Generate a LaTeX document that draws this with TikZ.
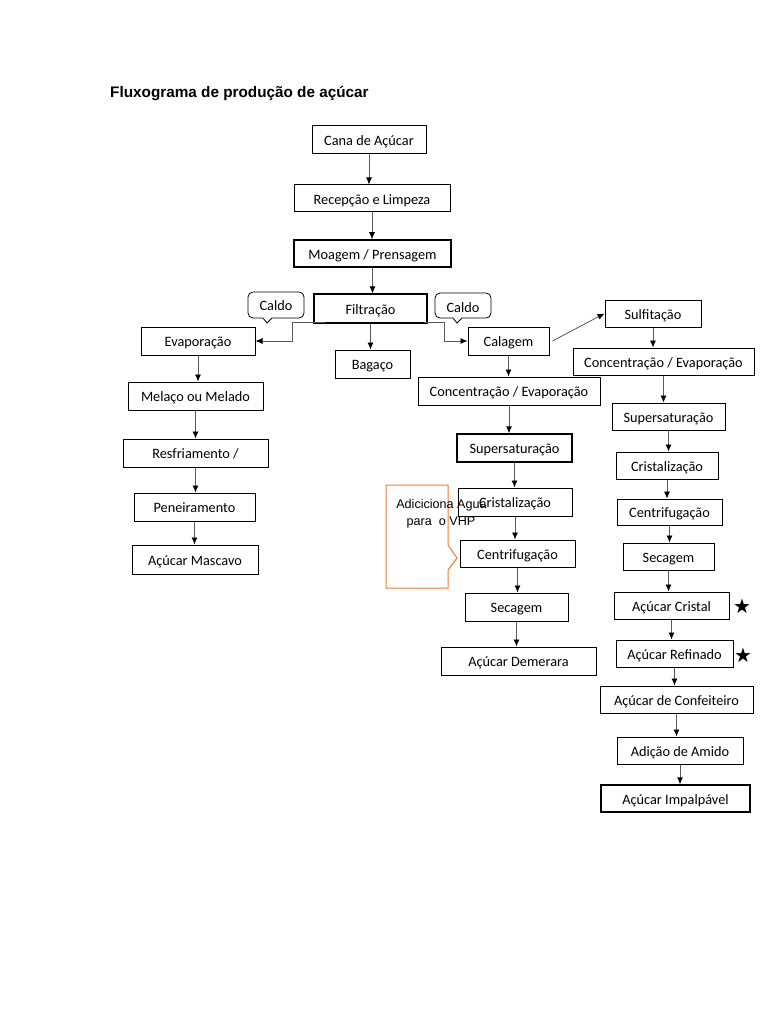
\documentclass[tikz,border=0pt]{standalone}
\usepackage{fontspec}
\setmainfont{Carlito}
\newfontfamily\titlefont{Liberation Sans}
\newfontfamily\notefont{Liberation Sans}
\newfontfamily\symfont{DejaVu Sans}
\usetikzlibrary{arrows.meta}
\definecolor{noteorange}{RGB}{237,125,49}
\begin{document}
\begin{tikzpicture}[x=1pt,y=-1pt,
  box/.style={draw=black,line width=1pt,inner sep=0pt,minimum height=27pt,text height=11.5pt,text depth=0.3pt,font=\fontsize{14.3}{16}\selectfont},
  flow/.style={draw=black!65,line width=0.8pt,-{Latex[length=7pt,width=6pt,black]}},
  bubble/.style={draw=black,line width=0.8pt}]
  \fill[white] (0,0) rectangle (768,1024);
  \useasboundingbox (0,0) rectangle (768,1024);
  \node[anchor=west,font=\titlefont\bfseries\fontsize{15.3}{18}\selectfont,inner sep=0] (title) at (110,94) {Fluxograma de produção de açúcar};
  % main line
  \node[box,minimum width=114,minimum height=28] (cana) at (369,140) {Cana de Açúcar};
  \node[box,minimum width=156] (recep) at (372,198.5) {Recepção e Limpeza};
  \node[box,minimum width=157,line width=1.5pt] (moagem) at (372.5,253.5) {Moagem / Prensagem};
  \node[box,minimum width=113,minimum height=29,line width=1.3pt] (filtr) at (370.5,308.5) {Filtração};
  \node[box,minimum width=75,minimum height=28] (bagaco) at (372.5,364) {Bagaço};
  % left branch
  \node[box,minimum width=114,minimum height=28] (evap) at (198,341) {Evaporação};
  \node[box,minimum width=135,minimum height=28] (melaco) at (195.5,396) {Melaço ou Melado};
  \node[box,minimum width=145,minimum height=28] (resfr) at (195.5,453) {Resfriamento /};
  \node[box,minimum width=121,minimum height=28] (peneir) at (194.5,507) {Peneiramento};
  \node[box,minimum width=126,minimum height=29] (mascavo) at (195,559.5) {Açúcar Mascavo};
  % middle branch
  \node[box,minimum width=81,minimum height=28] (calagem) at (508.5,341) {Calagem};
  \node[box,minimum width=182,minimum height=28] (concM) at (509,391) {Concentração / Evaporação};
  \node[box,minimum width=115,minimum height=28,line width=1.3pt] (superM) at (514.5,448) {Supersaturação};
  \node[box,minimum width=114,minimum height=28] (cristM) at (515,502) {Cristalização};
  \node[box,minimum width=115] (centrM) at (517.5,553.5) {Centrifugação};
  \node[box,minimum width=103,minimum height=28] (secM) at (516.5,607) {Secagem};
  \node[box,minimum width=155,minimum height=28] (demerara) at (518.5,661) {Açúcar Demerara};
  % right branch
  \node[box,minimum width=96] (sulfit) at (653,313.5) {Sulfitação};
  \node[box,minimum width=181] (concR) at (663.5,361.5) {Concentração / Evaporação};
  \node[box,minimum width=113] (superR) at (668.5,416.5) {Supersaturação};
  \node[box,minimum width=102] (cristR) at (667,465.5) {Cristalização};
  \node[box,minimum width=105,minimum height=26] (centrR) at (669.5,512) {Centrifugação};
  \node[box,minimum width=91] (secR) at (668.5,556.5) {Secagem};
  \node[box,minimum width=115] (cristal) at (671.5,605.5) {Açúcar Cristal};
  \node[box,minimum width=117] (refin) at (674.5,653.5) {Açúcar Refinado};
  \node[box,minimum width=153] (confeit) at (676.5,699.5) {Açúcar de Confeiteiro};
  \node[box,minimum width=126] (amido) at (680,750.5) {Adição de Amido};
  \node[box,minimum width=149,line width=1.3pt] (impalp) at (675.5,798.5) {Açúcar Impalpável};
  \node[font=\symfont\fontsize{20}{20}\selectfont,inner sep=0] (starA) at (742,606) {★};
  \node[font=\symfont\fontsize{20}{20}\selectfont,inner sep=0] (starB) at (743,655) {★};
  % vertical arrows
  \foreach \a/\b in {cana/recep,recep/moagem,moagem/filtr,filtr/bagaco,
      evap/melaco,melaco/resfr,resfr/peneir,peneir/mascavo,
      calagem/concM,concM/superM,superM/cristM,cristM/centrM,centrM/secM,secM/demerara,
      sulfit/concR,concR/superR,superR/cristR,cristR/centrR,centrR/secR,secR/cristal,
      cristal/refin,refin/confeit,confeit/amido,amido/impalp}
    \draw[flow] (\a.south) -- (\a.south |- \b.north);
  \draw[flow] ([xshift=12pt,yshift=1pt]filtr.south west) -- ++(-33,0) |- (evap.east);
  \draw[flow] ([xshift=-4pt,yshift=1pt]filtr.south east) -- ++(21,0) |- (calagem.west);
  \draw[flow] ([xshift=3pt]calagem.east) -- (sulfit.west);
  % caldo bubbles
  \draw[bubble] (248,292) [rounded corners=5pt] -- (304,292) -- (304,318) [sharp corners] -- (272,318) -- (267,323) -- (263,318) [rounded corners=5pt] -- (248,318) -- cycle;
  \node[font=\fontsize{14.3}{16}\selectfont,text height=11.5pt,text depth=0.3pt] (caldoL) at (276,305) {Caldo};
  \draw[bubble] (435,293) [rounded corners=5pt] -- (491,293) -- (491,318) [sharp corners] -- (462,318) -- (457,323) -- (453,318) [rounded corners=5pt] -- (435,318) -- cycle;
  \node[font=\fontsize{14.3}{16}\selectfont,text height=11.5pt,text depth=0.3pt] (caldoR) at (463,306.5) {Caldo};
  % note
  \draw[noteorange,line width=1pt] (386,485) -- (448,485) -- (448,545) -- (457,558) -- (448,570) -- (448,588) -- (386,588) -- cycle;
  \node[font=\notefont\fontsize{12.6}{14}\selectfont,inner sep=0] (agua) at (441.5,505) {Adiciciona Agua};
  \node[font=\notefont\fontsize{12.6}{14}\selectfont,inner sep=0] (vhp) at (441,522) {para\ \ o VHP};
\end{tikzpicture}
\end{document}
